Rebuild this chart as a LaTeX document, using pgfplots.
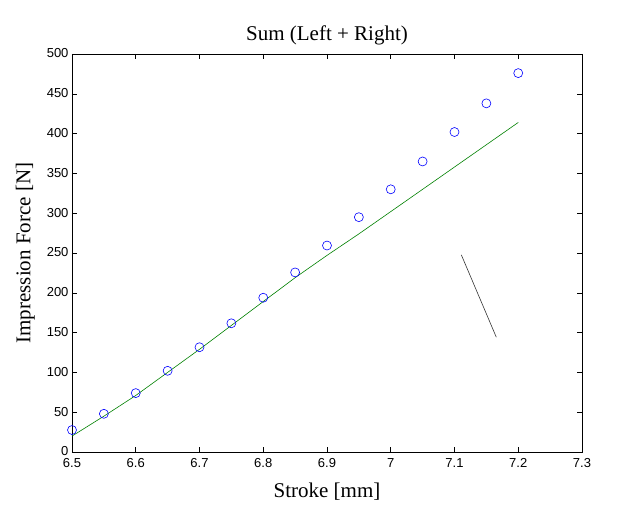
\documentclass[border=0pt]{standalone}
\usepackage{pgfplots}
\pgfplotsset{compat=1.18}
\usepackage{fontspec}
\setmainfont{Liberation Serif}
\newfontfamily\arial{Liberation Sans}
\definecolor{mgreen}{rgb}{0,0.5,0}
\begin{document}
\begin{tikzpicture}[x=1bp,y=1bp]
\path[use as bounding box] (-72bp,-58bp) rectangle (550bp,452bp);
\begin{axis}[
  at={(0,0)}, anchor=south west,
  scale only axis, width=510bp, height=398bp,
  xmin=6.5, xmax=7.3, ymin=0, ymax=500,
  xtick={6.5,6.6,...,7.3},
  xticklabels={6.5,6.6,6.7,6.8,6.9,7,7.1,7.2,7.3},
  ytick={0,50,...,500},
  tick align=inside, tick pos=both,
  major tick length=5bp,
  tick style={black, line width=0.5bp},
  axis line style={black, line width=0.6bp},
  /pgf/number format/assume math mode=true,
  ticklabel style={font=\arial\fontsize{13bp}{13bp}\selectfont},
  xticklabel style={yshift=-3bp},
  yticklabel style={yshift=0.5bp},
  title={Sum (Left + Right)},
  title style={font=\fontsize{21bp}{21bp}\selectfont, yshift=-1bp},
  xlabel={Stroke [mm]},
  ylabel={Impression Force [N]},
  label style={font=\fontsize{21bp}{21bp}\selectfont},
  xlabel style={yshift=-8bp},
  ylabel style={yshift=5bp},
  clip=false,
]
\addplot[mgreen, line width=0.6bp] coordinates {
(6.5,20) (6.55,45) (6.6,71) (6.65,100) (6.7,129) (6.75,159) (6.8,189)
(6.85,219) (6.9,247) (6.95,274) (7.0,302) (7.05,330) (7.1,358) (7.15,386) (7.2,414)};
\addplot[only marks, mark=o, mark size=4.5bp, mark options={blue, line width=0.6bp}] coordinates {
(6.5,27.6) (6.55,48) (6.6,74) (6.65,102) (6.7,131.6) (6.75,161.7) (6.8,193.8)
(6.85,225.6) (6.9,259.4) (6.95,295) (7.0,330) (7.05,365) (7.1,402) (7.15,438) (7.2,476)};
\addplot[black!80, line width=0.6bp] coordinates {(7.1107,247.7) (7.1656,144.2)};
\end{axis}
\end{tikzpicture}
\end{document}
